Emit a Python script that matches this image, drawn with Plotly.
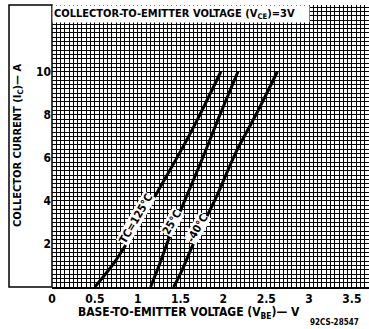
import plotly.graph_objects as go

# Data
vbe_125 = [0.50, 0.72, 0.90, 1.10, 1.30, 1.50, 1.70, 1.97]
ic_125 = [0.0, 1.1, 2.2, 3.5, 4.9, 6.3, 7.8, 10.0]
vbe_25 = [1.15, 1.25, 1.36, 1.58, 1.78, 1.95, 2.17]
ic_25 = [0.0, 1.0, 2.2, 4.3, 6.2, 7.9, 10.0]
vbe_m40 = [1.42, 1.52, 1.65, 1.92, 2.14, 2.38, 2.63]
ic_m40 = [0.0, 0.8, 2.0, 4.2, 6.2, 8.0, 10.0]

x_tickvals = [0, 0.5, 1, 1.5, 2, 2.5, 3, 3.5]
x_ticktext = ["0", "0.5", "1", "1.5", "2", "2.5", "3", "3.5"]
y_tickvals = [2, 4, 6, 8, 10]
y_ticktext = ["2", "4", "6", "8", "10"]

curve_labels = ["TC=125°C", "25°C", "-40°C"]
label_x = [0.98, 1.40, 1.70]
label_y = [3.2, 3.0, 2.7]

FONT = "DejaVu Sans Condensed, DejaVu Sans, sans-serif"

fig = go.Figure()
for xs, ys in [(vbe_125, ic_125), (vbe_25, ic_25), (vbe_m40, ic_m40)]:
    fig.add_trace(go.Scatter(x=xs, y=ys, mode="lines",
                             line=dict(color="black", width=3, shape="spline", smoothing=1.0),
                             showlegend=False, hoverinfo="skip"))

for t, lx, ly in zip(curve_labels, label_x, label_y):
    fig.add_annotation(x=lx, y=ly, text="<b>" + t + "</b>", showarrow=False,
                       textangle=-60, bgcolor="white", borderpad=0,
                       font=dict(family=FONT, size=11, color="black"))

# title box
fig.add_annotation(xref="paper", yref="paper", x=0, y=1, xanchor="left", yanchor="top",
                   text="<b>COLLECTOR-TO-EMITTER VOLTAGE (V<sub>CE</sub>)=3V</b>",
                   showarrow=False, bgcolor="white", width=254, align="left", borderpad=1,
                   font=dict(family=FONT, size=11, color="black"))

# x axis title
fig.add_annotation(xref="paper", yref="paper", x=(189 - 52) / 317, y=0, yshift=-16,
                   xanchor="center", yanchor="top",
                   text="<b>BASE-TO-EMITTER VOLTAGE (V<sub>BE</sub>)— V</b>", showarrow=False,
                   font=dict(family=FONT, size=12, color="black"))
# code
fig.add_annotation(xref="paper", yref="paper", x=1, y=0, yshift=-29, xanchor="right", yanchor="top",
                   xshift=-8,
                   text="<b>92CS-28547</b>", showarrow=False,
                   font=dict(family=FONT, size=8, color="black"))
# y axis title
fig.add_annotation(xref="paper", yref="paper", x=(18 - 52) / 317, y=0.5,
                   xanchor="center", yanchor="middle", textangle=-90,
                   text="<b>COLLECTOR CURRENT (I<sub>C</sub>)— A</b>", showarrow=False,
                   font=dict(family=FONT, size=11, color="black"))

# left white frame
fig.add_shape(type="rect", xref="paper", yref="paper", x0=(9 - 52) / 317, x1=0, y0=0, y1=1,
              line=dict(color="black", width=1.5), fillcolor="white", layer="below")

fig.update_layout(
    width=369, height=329,
    margin=dict(l=52, r=0, t=5, b=42),
    paper_bgcolor="white", plot_bgcolor="white",
    font=dict(family=FONT, size=11, color="black"),
    xaxis=dict(range=[0, 3.7], tickvals=x_tickvals, ticktext=["<b>%s</b>" % s for s in x_ticktext],
               showgrid=True, gridcolor="black", gridwidth=1.3,
               minor=dict(dtick=0.05, showgrid=True, gridcolor="black", gridwidth=1.3),
               showline=True, linecolor="black", linewidth=2, zeroline=False,
               ticks="", tickfont=dict(size=12)),
    yaxis=dict(range=[0, 13.1], tickvals=y_tickvals, ticktext=["<b>%s</b>" % s for s in y_ticktext],
               showgrid=True, gridcolor="black", gridwidth=1.3,
               minor=dict(dtick=0.2, showgrid=True, gridcolor="black", gridwidth=1.3),
               showline=False, zeroline=False, ticks="", tickfont=dict(size=12)),
)

fig.write_html("out.html", config={"displayModeBar": False},
               post_script="document.body.style.margin='0';document.body.style.overflow='hidden';")
